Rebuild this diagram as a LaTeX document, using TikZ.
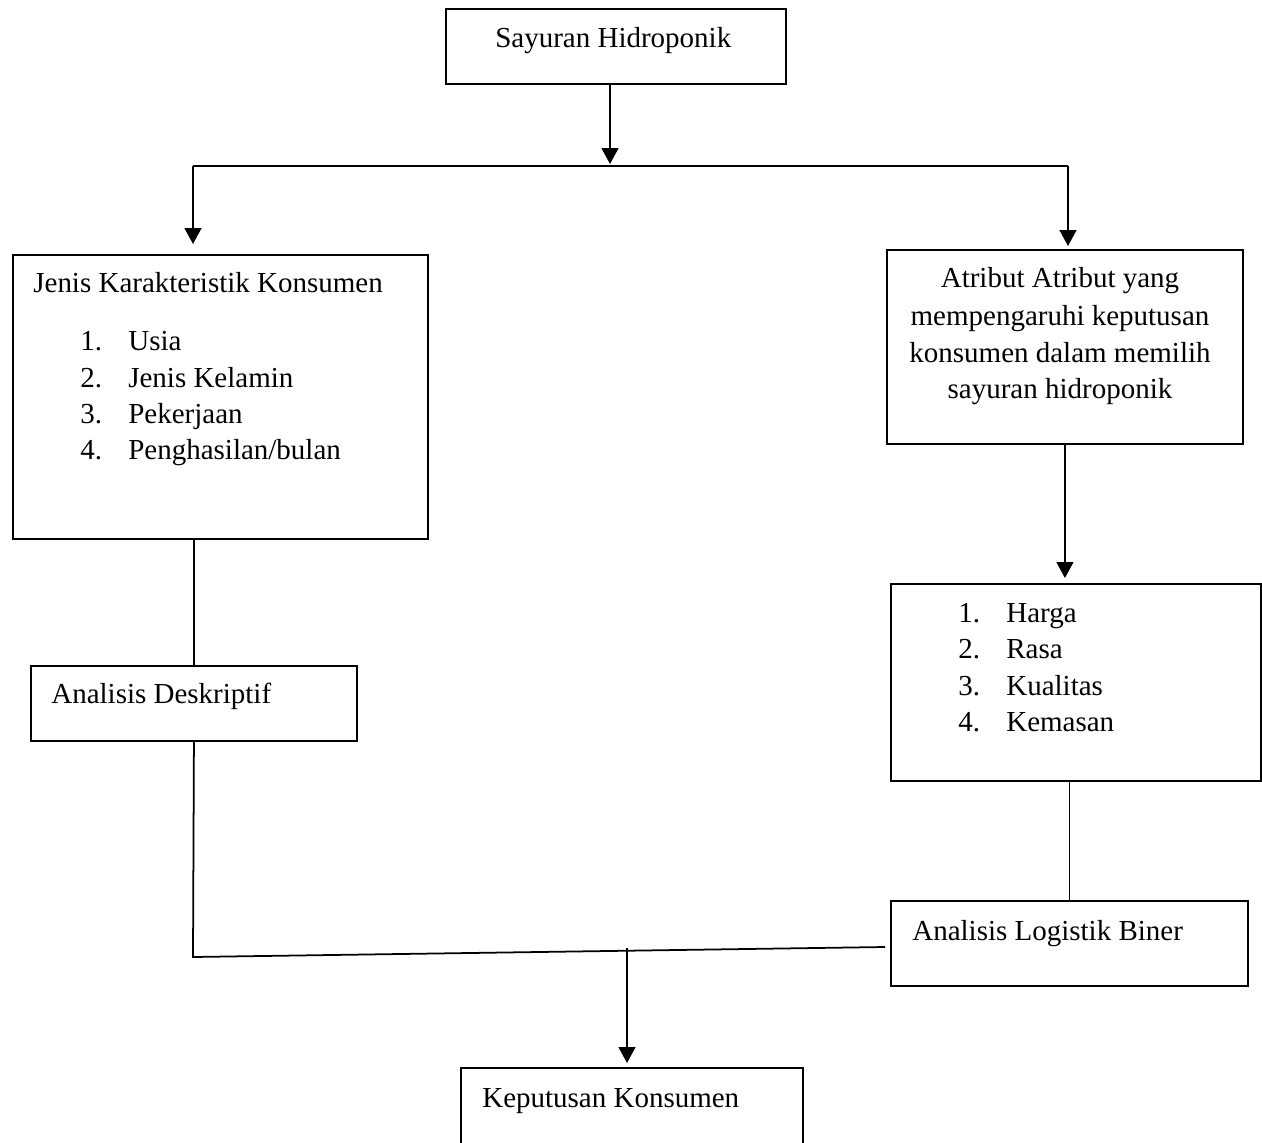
\documentclass[tikz,border=0pt]{standalone}
\usepackage{fontspec}
\setmainfont{Liberation Serif}
\usetikzlibrary{arrows.meta,calc}

\tikzset{
  kotak/.style={draw, line width=1.1pt, inner sep=0pt, anchor=north west},
  teks/.style={font=\fontsize{16.5}{20}\selectfont, inner sep=0pt, anchor=base west},
  tengahteks/.style={teks, anchor=base},
  garis/.style={line width=1pt},
  panah/.style={garis, -{Triangle[length=9pt,width=9.5pt]}}
}
\newcommand{\nomor}[1]{\makebox[0.96cm][l]{#1}}

\begin{document}
\begin{tikzpicture}[x=0.02cm,y=-0.02cm]
  \useasboundingbox (0,0) rectangle (1262,1143);
  \clip (0,0) rectangle (1262,1143);

  % kotak-kotak
  \node[kotak, minimum width=6.8cm, minimum height=1.5cm] (atas) at (445,8) {};
  \node[kotak, minimum width=8.3cm, minimum height=5.68cm] (karakter) at (12,254) {};
  \node[kotak, minimum width=7.12cm, minimum height=3.88cm] (atribut) at (886,249) {};
  \node[kotak, minimum width=7.4cm, minimum height=3.94cm] (daftar) at (890,583) {};
  \node[kotak, minimum width=6.52cm, minimum height=1.5cm] (deskriptif) at (30,665) {};
  \node[kotak, minimum width=7.14cm, minimum height=1.7cm] (logistik) at (890,900) {};
  \node[kotak, minimum width=6.84cm, minimum height=2cm] (keputusan) at (460,1067) {};

  % teks
  \node[teks] (tAtas) at (495,47) {Sayuran Hidroponik};

  \node[teks] (tKarakter) at (33,292) {Jenis Karakteristik Konsumen};
  \node[teks] (usia) at (80,350) {\nomor{1.}Usia};
  \node[teks] (kelamin) at (80,387) {\nomor{2.}Jenis Kelamin};
  \node[teks] (kerja) at (80,423) {\nomor{3.}Pekerjaan};
  \node[teks] (hasil) at (80,459) {\nomor{4.}Penghasilan/bulan};

  \node[tengahteks] (tAtribut1) at (1060,287) {Atribut Atribut yang};
  \node[tengahteks] (tAtribut2) at (1060,325) {mempengaruhi keputusan};
  \node[tengahteks] (tAtribut3) at (1060,362) {konsumen dalam memilih};
  \node[tengahteks] (tAtribut4) at (1060,398) {sayuran hidroponik};

  \node[teks] (harga) at (958,622) {\nomor{1.}Harga};
  \node[teks] (rasa) at (958,658) {\nomor{2.}Rasa};
  \node[teks] (kualitas) at (958,695) {\nomor{3.}Kualitas};
  \node[teks] (kemasan) at (958,731) {\nomor{4.}Kemasan};

  \node[teks] (tDeskriptif) at (51,703) {Analisis Deskriptif};
  \node[teks] (tLogistik) at (912,940) {Analisis Logistik Biner};
  \node[teks] (tKeputusan) at (482,1107) {Keputusan Konsumen};

  % penghubung
  \coordinate (tengah) at (610,164);
  \coordinate (kiri) at (193,166);
  \coordinate (kanan) at (1068,166);
  \draw[panah] (atas.south -| tengah) -- (tengah);
  \draw[garis] (kiri) -- (kanan);
  \draw[panah] (kiri) -- ($(kiri |- karakter.north)+(0,-10)$);
  \draw[panah] (kanan) -- ($(kanan |- atribut.north)+(0,-3)$);

  \draw[panah] (atribut.south) -- ($(atribut.south |- daftar.north)+(0,-5)$);
  \draw[garis] (logistik.north |- daftar.south) -- (logistik.north);
  \draw[garis] (deskriptif.north |- karakter.south) -- (deskriptif.north);

  \coordinate (sudut) at (193,957);
  \coordinate (ujung) at (885,947);
  \coordinate (cabang) at (627,948);
  \draw[garis] (deskriptif.south) -- (sudut) -- (ujung);
  \draw[panah] (cabang) -- ($(cabang |- keputusan.north)+(0,-4)$);
\end{tikzpicture}
\end{document}
